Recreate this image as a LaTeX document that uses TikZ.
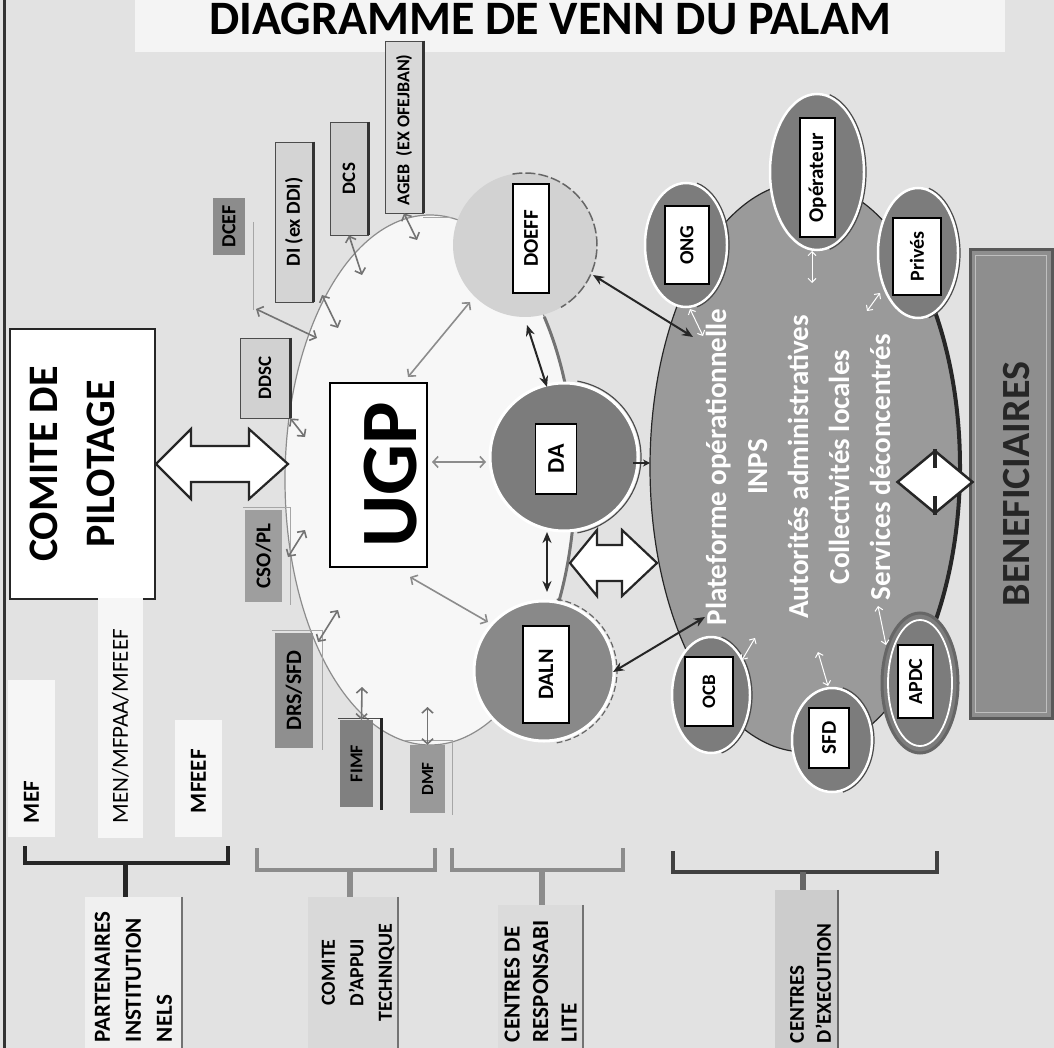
\documentclass[tikz,border=0pt]{standalone}
\usepackage{fontspec}
\usepackage{graphicx}
\setmainfont{Carlito}
\usetikzlibrary{arrows.meta,shapes.geometric,calc}
\definecolor{bgc}{HTML}{E2E2E2}
\definecolor{titlec}{HTML}{F4F4F4}
\definecolor{venncol}{HTML}{F7F7F7}
\definecolor{platc}{HTML}{9A9A9A}
\definecolor{satc}{HTML}{7C7C7C}
\definecolor{doeffc}{HTML}{D2D2D2}
\definecolor{benefc}{HTML}{8E8E8E}
\definecolor{colw}{HTML}{F6F6F6}
\newcommand\myfs[2]{\fontsize{#1}{#2}\selectfont}
\newcommand\rotx[1]{\rotatebox{90}{#1}}
\tikzset{
 inbox/.style={draw=black,line width=1.8pt,fill=white,inner sep=0pt,font=\bfseries\myfs{21}{21}},
 sat/.style={ellipse,fill=satc,draw=white,line width=2.5pt,inner sep=0pt},
 rc/.style={circle,draw=white,line width=3pt,inner sep=0pt},
 tbox/.style={inner sep=0pt,font=\bfseries\myfs{20}{20},fill=#1},
 sbox/.style={inner sep=0pt,font=\bfseries\myfs{20}{20},draw=black!70,line width=0.8pt,fill=#1},
 wcol/.style={fill=colw,inner sep=0pt,font=\bfseries\myfs{23}{23}},
 lbox/.style={inner sep=0pt,fill=#1},
 garrow/.style={draw=black!55,line width=1.6pt,arrows={Straight Barb[length=5pt,width=11pt]-Straight Barb[length=5pt,width=11pt]}},
 darrow/.style={draw=black!85,line width=2pt,arrows={Stealth[length=11pt,width=9pt]-Stealth[length=11pt,width=9pt]}},
 warrow/.style={draw=white,line width=1pt,arrows={Straight Barb[length=4pt,width=8pt]-Straight Barb[length=4pt,width=8pt]}},
 hollow/.style={draw=black!85,fill=white,line width=2.2pt,line join=miter},
 frameline/.style={draw=black!35,line width=1pt},
 brk/.style={line width=4pt,line cap=rect},
}
\begin{document}
\begin{tikzpicture}[x=1pt,y=-1pt]
\useasboundingbox (0,0) rectangle (1054,1048);
\fill[bgc] (0,0) rectangle (1054,1048);
\fill[titlec] (135,0) rectangle (1005,52);
\node[font=\bfseries\myfs{48}{48},anchor=base,inner sep=0pt] (title) at (550,35) {DIAGRAMME DE VENN DU PALAM};
\draw[black!80,line width=3pt] (4,0) -- (4,1048);

% comite de pilotage
\node[draw=black!85,line width=2pt,fill=white,minimum width=145pt,minimum height=270pt,inner sep=0pt,font=\bfseries\myfs{42}{57}] (comite) at (82.5,464)
 {\rotx{\begin{tabular}{@{}c@{}}COMITE DE\\PILOTAGE\end{tabular}}\hspace*{16pt}};

% venn ellipse (UGP)
\node[ellipse,fill=venncol,draw=black!45,line width=1.2pt,minimum width=290pt,minimum height=530pt,inner sep=0pt] (venn) at (430,480) {};
\draw[black!55,line width=3pt] (venn.center) ++(-38:145 and 265) arc[start angle=-38,end angle=38,x radius=145,y radius=265];

% platform
\node[ellipse,fill=platc,draw=black!85,line width=1.2pt,minimum width=310pt,minimum height=570pt,inner sep=0pt,text=white,font=\bfseries\myfs{29}{41}] (plat) at (805,467)
 {\rotx{\begin{tabular}{@{}c@{}}Plateforme opérationnelle\\INPS\\Autorités administratives\\Collectivités locales\\Services déconcentrés\end{tabular}}\hspace*{10pt}};
\draw[black!85,line width=4pt] (plat.center) ++(-40:155 and 285) arc[start angle=-40,end angle=40,x radius=155,y radius=285];

% beneficiaires
\node[draw=black!65,line width=3pt,fill=benefc,minimum width=82pt,minimum height=468pt,inner sep=0pt,font=\bfseries\myfs{40}{40},text=black!85] (benef) at (1011,484)
 {\hspace*{12pt}\rotx{BENEFICIAIRES}};
\draw[black!25,line width=1.5pt] ($(benef.north west)+(7,7)$) rectangle ($(benef.south east)+(-7,-7)$);

% diamond
\node[diamond,draw=black!85,fill=white,line width=2.5pt,minimum width=76pt,minimum height=63pt,inner sep=0pt] (dmd) at (935,482) {};
\draw[black!85,line width=3.5pt] (dmd.north) -- ++(0,19);
\draw[black!85,line width=3.5pt] (dmd.south) -- ++(0,-19);

% circles of the centres de responsabilite
\node[circle,fill=doeffc,minimum size=144pt,inner sep=0pt] (doeffC) at (525,245) {};
\draw[black!60,line width=1.5pt,dash pattern=on 10pt off 3pt] (doeffC.center) ++(-100:72) arc[start angle=-100,end angle=60,radius=72];
\node[rc,fill=satc,minimum size=148pt] (daC) at (564,457) {};
\draw[black!70,line width=1.2pt] (daC.center) ++(-80:77) arc[start angle=-80,end angle=80,radius=77];
\node[rc,fill=satc!90!white,minimum size=140pt] (dalnC) at (544,671) {};
\draw[black!60,line width=1.2pt,dash pattern=on 6pt off 3pt] (dalnC.center) ++(-80:73) arc[start angle=-80,end angle=80,radius=73];

\node[inbox,minimum width=36pt,minimum height=109pt] (doeff) at (531,238.5) {\rotx{DOEFF}};
\node[inbox,minimum width=41pt,minimum height=70pt,font=\bfseries\myfs{24}{24}] (da) at (556,459) {\rotx{DA}};
\node[inbox,minimum width=46pt,minimum height=97pt,font=\bfseries\myfs{22}{22}] (daln) at (546,674.5) {\rotx{DALN}};

% satellites of the platform
\node[sat,minimum width=82pt,minimum height=124pt] (ongE) at (686,245) {};
\node[sat,minimum width=94pt,minimum height=156pt] (opE) at (817,172) {};
\node[sat,minimum width=80pt,minimum height=130pt] (prE) at (918,253) {};
\node[sat,minimum width=78pt,minimum height=116pt] (ocbE) at (711,695) {};
\node[sat,minimum width=80pt,minimum height=104pt] (sfdE) at (832,740) {};
\node[ellipse,fill=satc,draw=black!60,line width=3pt,inner sep=0pt,minimum width=76pt,minimum height=140pt] (apE) at (920,683) {};
\draw[white,line width=1.8pt] (apE.center) ellipse [x radius=32,y radius=63];
\foreach \e/\rx/\ry in {ongE/43/64,opE/49/80,prE/42/67,ocbE/41/60,sfdE/42/54}{
  \draw[black!70,line width=1.2pt] (\e.center) ++(-75:{\rx} and {\ry}) arc[start angle=-75,end angle=75,x radius=\rx,y radius=\ry];
}
\node[inbox,minimum width=44pt,minimum height=78pt,font=\bfseries\myfs{20}{20}] (ong) at (687,245) {\rotx{ONG}};
\node[inbox,minimum width=35pt,minimum height=119pt] (oper) at (817.5,177.5) {\rotx{Opérateur}};
\node[inbox,minimum width=48pt,minimum height=77pt,font=\bfseries\myfs{20}{20}] (prives) at (917,256.5) {\rotx{Privés}};
\node[inbox,minimum width=48pt,minimum height=69pt,font=\bfseries\myfs{19}{19}] (ocb) at (709,691.5) {\rotx{OCB}};
\node[inbox,minimum width=40pt,minimum height=60pt] (sfd) at (829,738) {\rotx{SFD}};
\node[inbox,minimum width=35pt,minimum height=73pt,font=\bfseries\myfs{20}{20}] (apdc) at (915.5,681.5) {\rotx{APDC}};

% UGP
\node[draw=black,line width=2pt,fill=white,minimum width=97pt,minimum height=184pt,inner sep=0pt,font=\bfseries\myfs{80}{80}] (ugp) at (378.5,475) {\hspace*{24pt}\rotx{UGP}};

% comite d'appui technique boxes
\node[tbox=black!45,minimum width=32pt,minimum height=57pt] (dcef) at (229,226.5) {\rotx{DCEF}};
\draw[frameline] (253,222) -- (253,310);
\node[sbox=black!17,minimum width=38pt,minimum height=160pt] (di) at (294,222) {\rotx{DI (ex DDI)}};
\draw[black!80,line width=3pt] (di.north east) -- (di.south east);
\node[sbox=black!19,minimum width=38pt,minimum height=113pt,font=\bfseries\myfs{19}{19}] (dcs) at (349,178.5) {\rotx{DCS}};
\draw[black!80,line width=3pt] (dcs.north east) -- (dcs.south east);
\node[sbox=black!15,minimum width=38pt,minimum height=172pt,font=\bfseries\myfs{18}{18}] (ageb) at (404,127) {\rotx{AGEB\ \ (EX OFEJBAN)\hspace*{6pt}}};
\draw[black!80,line width=3pt] (ageb.north east) -- (ageb.south east);
\draw[frameline] (423,218) -- (452,218);
\node[sbox=black!18,minimum width=50pt,minimum height=80pt,font=\bfseries\myfs{19}{19}] (ddsc) at (265,378) {\rotx{DDSC}};
\draw[black!80,line width=3pt] (ddsc.north east) -- (ddsc.south east);
\node[tbox=black!38,minimum width=37pt,minimum height=92pt,font=\bfseries\myfs{21}{21}] (csopl) at (263.5,556) {\rotx{CSO/PL}};
\draw[frameline] (243,507) -- (290,507) -- (290,605);
\node[tbox=black!44,minimum width=38pt,minimum height=115pt,font=\bfseries\myfs{22}{22}] (drssfd) at (294,690.5) {\rotx{DRS/SFD}};
\draw[frameline] (272,630) -- (322,630) -- (322,750);
\node[tbox=black!50,minimum width=33pt,minimum height=87pt,font=\bfseries\myfs{18}{18}] (fimf) at (356.5,763.5) {\rotx{FIMF}};
\draw[black!70,line width=1pt] (338,718) -- (381,718);
\draw[black!85,line width=3pt] (381,718) -- (381,810);
\node[tbox=black!40,minimum width=35pt,minimum height=68pt,font=\bfseries\myfs{17}{17}] (dmf) at (427.5,779) {\rotx{DMF}};
\draw[frameline] (405,740) -- (452,740) -- (452,815);

% partenaires institutionnels column
\node[wcol,minimum width=47pt,minimum height=157pt] (mef) at (31.5,758.5) {\rotx{\makebox[129pt][l]{MEF}}};
\node[wcol,minimum width=45pt,minimum height=240pt,font=\mdseries\myfs{23}{23}] (men) at (120.5,718) {\rotx{\makebox[210pt][l]{MEN/MFPAA/MFEEF}}};
\node[wcol,minimum width=47pt,minimum height=117pt] (mfeef) at (198.5,778.5) {\rotx{\makebox[69pt][l]{MFEEF}}};

% bottom category boxes
\node[lbox=black!6,minimum width=97pt,minimum height=151pt,font=\bfseries\myfs{23}{31}] (part) at (133.5,972.5)
 {\rotx{\parbox{139pt}{\raggedright PARTENAIRES\\INSTITUTION\\NELS}}};
\draw[black!55,line width=2pt] (part.north east) -- (part.south east);
\node[lbox=black!15,minimum width=90pt,minimum height=151pt,font=\bfseries\myfs{20}{28.5}] (comt) at (353,972.5)
 {\hspace*{10pt}\rotx{\parbox{140pt}{\centering COMITE\\D'APPUI\\TECHNIQUE}}};
\draw[black!55,line width=2pt] (comt.north east) -- (comt.south east);
\node[lbox=black!14,minimum width=85pt,minimum height=143pt,font=\bfseries\myfs{23}{28.5}] (cresp) at (540.5,976.5)
 {\rotx{\parbox{131pt}{\raggedright CENTRES DE\\RESPONSABI\\LITE}}};
\draw[black!55,line width=2pt] (cresp.north east) -- (cresp.south east);
\node[lbox=black!20,minimum width=63pt,minimum height=158pt,font=\bfseries\myfs{21}{27}] (cexec) at (806.5,969)
 {\hspace*{8pt}\rotx{\parbox{148pt}{\raggedright CENTRES\\D'EXECUTION}}};
\draw[black!60,line width=2pt] (cexec.north east) -- (cexec.south east);

% brackets
\coordinate (b1) at (125,863);
\coordinate (b2) at (350,870);
\coordinate (b3) at (542,870);
\coordinate (b4) at (803,872);
\draw[brk,black!85] (25,848) -- (25,863) -- (228,863) -- (228,848);
\draw[black!85,line width=5pt] (b1) -- (b1 |- part.north);
\draw[brk,black!45] (257,850) -- (257,870) -- (435,870) -- (435,850);
\draw[black!45,line width=6pt] (b2) -- (b2 |- comt.north);
\draw[brk,black!45] (452,850) -- (452,870) -- (623,870) -- (623,850);
\draw[black!45,line width=6pt] (b3) -- (b3 |- cresp.north);
\draw[brk,black!75] (673,853) -- (673,872) -- (937,872) -- (937,853);
\draw[black!60,line width=6pt] (b4) -- (b4 |- cexec.north);

% hollow double arrows
\draw[hollow] (comite.east) -- ++(35,-35) -- ++(0,17) -- ++(58,0) -- ++(0,-17) -- ++(39,35) -- ++(-39,35) -- ++(0,-17) -- ++(-58,0) -- ++(0,17) -- cycle;
\coordinate (hA) at (570,563);
\draw[hollow] (hA) -- ++(27,-33) -- ++(0,15) -- ++(25,0) -- ++(0,-15) -- ++(35,33) -- ++(-35,33) -- ++(0,-15) -- ++(-25,0) -- ++(0,15) -- cycle;

% connector end points
\coordinate (dcefc) at (256,309); \coordinate (v1) at (317,338);
\coordinate (dic) at (322,295);   \coordinate (v2) at (338,328);
\coordinate (v3) at (362,275);
\coordinate (v4) at (417,240);
\coordinate (v8) at (305,437);
\coordinate (cspt) at (288,557);  \coordinate (v10) at (305,530);
\coordinate (drspt) at (318,642); \coordinate (v11) at (338,610);
\coordinate (v12) at (362,687);
\coordinate (v13) at (427.5,707);
\coordinate (u1) at (408,377); \coordinate (d1) at (470,302);
\coordinate (u2) at (410,577); \coordinate (d2) at (488,622);
\coordinate (u3) at (432,462); \coordinate (d3) at (486,462);
\coordinate (o1) at (527,325); \coordinate (o2) at (547,387);
\coordinate (o3) at (593,275); \coordinate (p1) at (693,337);
\coordinate (a1) at (547,532); \coordinate (a2) at (547,592);
\coordinate (l1) at (613,672); \coordinate (p2) at (705,617);
\coordinate (a3) at (633,463); \coordinate (p3) at (650,463);
\coordinate (w1a) at (690,309); \coordinate (w1b) at (703,336);
\coordinate (w2a) at (812,251); \coordinate (w2b) at (812,283);
\coordinate (w3a) at (880,293); \coordinate (w3b) at (867,311);
\coordinate (w4a) at (742,660); \coordinate (w4b) at (755,638);
\coordinate (w5a) at (828,686); \coordinate (w5b) at (818,652);
\coordinate (w6a) at (886,645); \coordinate (w6b) at (878,606);

% grey arrows of the comite d'appui
\draw[garrow] (dcefc) -- (v1);
\draw[garrow] (dic) -- (v2);
\draw[garrow] (dcs.south) -- (v3);
\draw[garrow] (ageb.south) -- (v4);
\draw[garrow] (ddsc.south east) -- (v8);
\draw[garrow] (cspt) -- (v10);
\draw[garrow] (drspt) -- (v11);
\draw[garrow] ($(fimf.north)+(5,0)$) -- (v12);
\draw[garrow] (dmf.north) -- (v13);
% UGP arrows
\draw[garrow,draw=black!45] (u1) -- (d1);
\draw[garrow,draw=black!45] (u2) -- (d2);
\draw[garrow,draw=black!45] (u3) -- (d3);
% dark arrows
\draw[darrow] (o1) -- (o2);
\draw[darrow] (o3) -- (p1);
\draw[darrow] (a1) -- (a2);
\draw[darrow] (l1) -- (p2);
\draw[black!85,line width=1.5pt,-{Stealth[length=7pt,width=7pt]}] (a3) -- (p3);
% white arrows inside the platform
\draw[warrow] (w1a) -- (w1b);
\draw[warrow] (w2a) -- (w2b);
\draw[warrow] (w3a) -- (w3b);
\draw[warrow] (w4a) -- (w4b);
\draw[warrow] (w5a) -- (w5b);
\draw[warrow] (w6a) -- (w6b);
\end{tikzpicture}
\end{document}
